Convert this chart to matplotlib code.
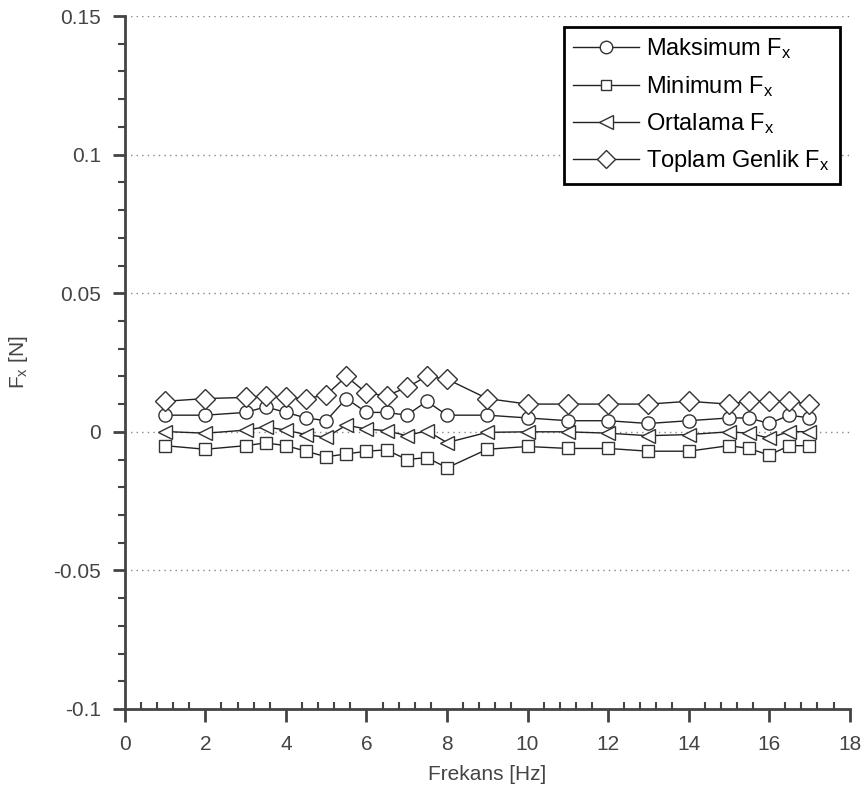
import matplotlib

matplotlib.use("Agg")
import matplotlib.pyplot as plt
from matplotlib.ticker import MultipleLocator

plt.rcParams["font.family"] = ["Liberation Sans", "DejaVu Sans"]
plt.rcParams["mathtext.fontset"] = "custom"
plt.rcParams["mathtext.rm"] = "Liberation Sans"
plt.rcParams["mathtext.it"] = "Liberation Sans"

freq = [1, 2, 3, 3.5, 4, 4.5, 5, 5.5, 6, 6.5, 7, 7.5, 8, 9,
        10, 11, 12, 13, 14, 15, 15.5, 16, 16.5, 17]
fx_max = [0.006, 0.006, 0.007, 0.009, 0.007, 0.005, 0.004, 0.012, 0.007, 0.007, 0.006, 0.011, 0.006, 0.006,
          0.005, 0.004, 0.004, 0.003, 0.004, 0.005, 0.005, 0.003, 0.006, 0.005]
fx_min = [-0.005, -0.0063, -0.005, -0.004, -0.005, -0.007, -0.009, -0.008, -0.007, -0.0065, -0.010, -0.0093, -0.013, -0.0063,
          -0.0053, -0.006, -0.006, -0.007, -0.007, -0.005, -0.006, -0.0084, -0.005, -0.005]
fx_mean = [0.0001, -0.0005, 0.0006, 0.0018, 0.0006, -0.001, -0.002, 0.0024, 0.001, 0.0004, -0.0014, 0.0004, -0.0039, -0.0002,
           0.0, 0.0, -0.0005, -0.0014, -0.001, 0.0, -0.0005, -0.0023, 0.0001, 0.0]
fx_amp = [0.011, 0.012, 0.0124, 0.013, 0.0124, 0.012, 0.0133, 0.020, 0.014, 0.013, 0.016, 0.020, 0.019, 0.012,
          0.010, 0.010, 0.010, 0.010, 0.011, 0.010, 0.011, 0.011, 0.011, 0.010]

series = [
    (fx_max, "o", r"Maksimum F$_\mathrm{x}$"),
    (fx_min, "s", r"Minimum F$_\mathrm{x}$"),
    (fx_mean, "<", r"Ortalama F$_\mathrm{x}$"),
    (fx_amp, "D", r"Toplam Genlik F$_\mathrm{x}$"),
]
sizes = {"o": 9.5, "s": 8, "<": 10.5, "D": 10}
leg_sizes = {"o": 9, "s": 7, "<": 9.5, "D": 9}

fig = plt.figure(figsize=(8.67, 7.91), dpi=100)
ax = fig.add_axes([0.144, 0.1037, 0.836, 0.876])

for vals, m, lab in series:
    ax.plot(freq, vals, color="#222222", lw=1.0, marker=m, ms=sizes[m],
            mfc="white", mec="#333333", mew=1.0, label=lab)

ax.set_xlim(0, 18)
ax.set_ylim(-0.1, 0.15)
ax.xaxis.set_major_locator(MultipleLocator(2))
ax.xaxis.set_minor_locator(MultipleLocator(0.4))
ax.yaxis.set_minor_locator(MultipleLocator(0.01))
ax.set_yticks([-0.1, -0.05, 0, 0.05, 0.1, 0.15])
ax.set_yticklabels(["-0.1", "-0.05", "0", "0.05", "0.1", "0.15"])

for s in ("top", "right"):
    ax.spines[s].set_visible(False)
for s in ("left", "bottom"):
    ax.spines[s].set_linewidth(2.0)
    ax.spines[s].set_color("#444444")

ax.tick_params(axis="both", which="major", labelsize=15, colors="#444444",
               labelcolor="#444444", width=2, length=9)
ax.tick_params(axis="x", which="major", direction="out", pad=10)
ax.tick_params(axis="x", which="minor", direction="in", width=1.5, length=5, colors="#444444")
ax.tick_params(axis="y", which="major", direction="out", pad=8)
ax.tick_params(axis="y", which="minor", direction="out", width=1.5, length=5, colors="#444444")

ax.yaxis.grid(True, which="major", ls=(0, (1, 3)), color="#888888", lw=1.0)
ax.set_axisbelow(True)

ax.set_xlabel("Frekans [Hz]", fontsize=15, color="#444444", labelpad=8)
ax.set_ylabel(r"F$_\mathrm{x}$ [N]", fontsize=15, color="#444444", labelpad=17)

leg = ax.legend(loc="upper right", fontsize=17, frameon=True, fancybox=False,
                edgecolor="black", framealpha=1, handlelength=2.8, handletextpad=0.3,
                borderpad=0.4, labelspacing=0.52, borderaxespad=0,
                bbox_to_anchor=(0.986, 0.984))
leg.get_frame().set_linewidth(2.0)
for h, (_, m, _) in zip(leg.legend_handles, series):
    h.set_markersize(leg_sizes[m])
for t in leg.get_texts():
    t.set_color("black")

fig.savefig("out.png", dpi=100)
